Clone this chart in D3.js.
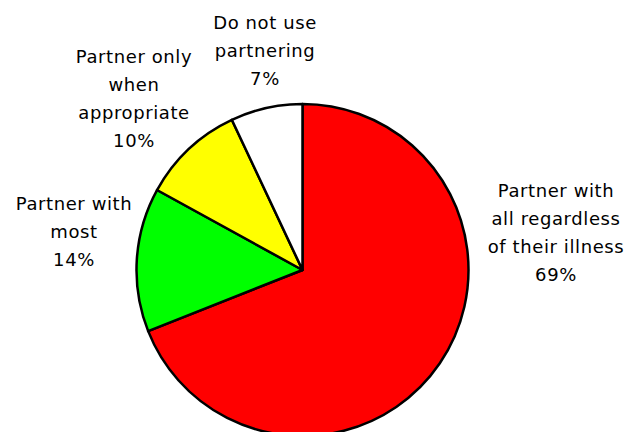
<!DOCTYPE html>
<html>
<head>
<meta charset="utf-8">
<script src="https://cdn.jsdelivr.net/npm/d3@7"></script>
<style>
  html, body { margin: 0; padding: 0; background: #ffffff; }
  svg { display: block; }
  text { font-family: "DejaVu Sans", Verdana, sans-serif; font-size: 18px; fill: #000; letter-spacing: 0.6px; }
</style>
</head>
<body>
<svg id="chart" width="628" height="432"></svg>
<script>
// Survey responses on partnering practice
const categories = [
  ["Partner with", "all regardless", "of their illness"],
  ["Partner with", "most"],
  ["Partner only", "when", "appropriate"],
  ["Do not use", "partnering"]
];
const shares = [69, 14, 10, 7];
const sliceColors = ["#ff0000", "#00ff00", "#ffff00", "#ffffff"];

// Label block placement: centre x and first-line baseline
const labelLayout = [
  { x: 556, y: 197 },
  { x: 74,  y: 210 },
  { x: 134, y: 63 },
  { x: 265, y: 29 }
];

const svg = d3.select("#chart");
const cx = 302.5, cy = 270, radius = 166;
const lineGap = 28;

const pie = d3.pie().sort(null).value(d => d)
  .startAngle(0).endAngle(2 * Math.PI);
const arc = d3.arc().innerRadius(0).outerRadius(radius);

const g = svg.append("g").attr("transform", `translate(${cx},${cy})`);

g.selectAll("path.slice")
  .data(pie(shares))
  .join("path")
  .attr("class", "slice")
  .attr("d", arc)
  .attr("fill", (d, i) => sliceColors[i])
  .attr("stroke", "#000")
  .attr("stroke-width", 2.5)
  .attr("stroke-linejoin", "round");

const labels = svg.selectAll("text.label")
  .data(categories)
  .join("text")
  .attr("class", "label")
  .attr("text-anchor", "middle")
  .attr("x", (d, i) => labelLayout[i].x)
  .attr("y", (d, i) => labelLayout[i].y);

labels.each(function (lines, i) {
  const t = d3.select(this);
  const all = lines.concat([shares[i] + "%"]);
  all.forEach((s, k) => {
    t.append("tspan")
      .attr("x", labelLayout[i].x)
      .attr("dy", k === 0 ? 0 : lineGap)
      .text(s);
  });
});
</script>
</body>
</html>
